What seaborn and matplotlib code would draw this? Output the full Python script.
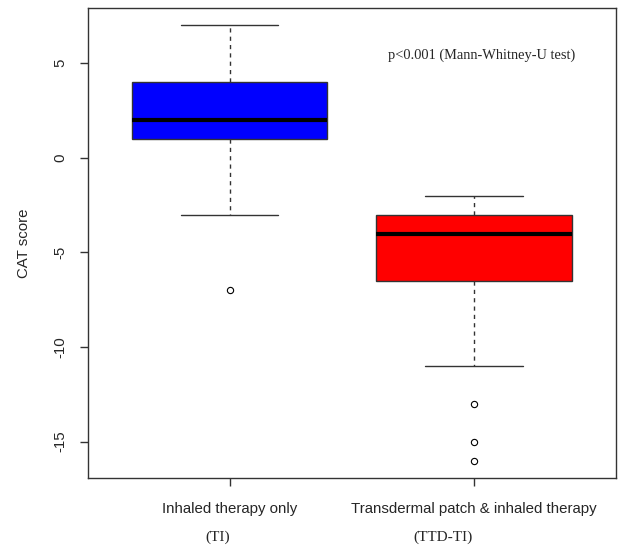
import numpy as np
import pandas as pd
import matplotlib
matplotlib.use("Agg")
import matplotlib.pyplot as plt
import seaborn as sns

# CAT score samples (quartiles, whiskers, outliers)
ti_scores = [-7, -3, 0, 1, 1, 1, 2, 2, 3, 3, 4, 4, 5, 6, 7]
ttd_scores = [-16, -15, -13, -11, -7, -6, -6, -5, -5, -4, -4, -4,
              -3, -3, -3, -3, -2, -2, -2]
group_labels = ["Inhaled therapy only", "Transdermal patch & inhaled therapy"]
group_short = ["(TI)", "(TTD-TI)"]
box_colors = ["#0000FF", "#FF0000"]
y_ticks = [-15, -10, -5, 0, 5]
p_text = "p<0.001 (Mann-Whitney-U test)"

df = pd.DataFrame({
    "group": [group_labels[0]] * len(ti_scores) + [group_labels[1]] * len(ttd_scores),
    "score": ti_scores + ttd_scores,
})

sns.set_style("white")
plt.rcParams["font.family"] = ["Liberation Sans", "DejaVu Sans"]
serif = ["Liberation Serif", "DejaVu Serif"]

fig = plt.figure(figsize=(6.18, 5.46), dpi=100)
ax = fig.add_axes([0.1424, 0.1245, 0.8536, 0.861])

line_col = "#333333"
sns.boxplot(
    data=df, x="group", y="score", hue="group", order=group_labels,
    hue_order=group_labels, palette=box_colors, saturation=1, width=0.8,
    whis=1.5, linecolor=line_col, linewidth=1, legend=False, ax=ax,
    boxprops=dict(edgecolor=line_col),
    medianprops=dict(color="black", linewidth=3),
    whiskerprops=dict(linestyle=(0, (3, 3)), color=line_col),
    capprops=dict(color=line_col),
    flierprops=dict(marker="o", markerfacecolor="none",
                    markeredgecolor="black", markersize=4.5, markeredgewidth=0.8),
)

ax.set_xlim(-0.58, 1.58)
ax.set_ylim(-16.92, 7.92)
ax.set_yticks(y_ticks)
ax.set_yticklabels([str(t) for t in y_ticks], rotation=90, va="center", fontsize=10.8)
ax.set_xticks([0, 1])
ax.set_xticklabels(group_labels, fontsize=10.8)
ax.tick_params(axis="both", direction="out", length=6, width=1, color=line_col,
               left=True, bottom=True)
ax.tick_params(axis="y", pad=9)
ax.tick_params(axis="x", pad=11)
ax.set_xlabel("")
ax.set_ylabel("CAT score", fontsize=10.8, labelpad=16)

for sp in ax.spines.values():
    sp.set_color(line_col)
    sp.set_linewidth(1)
    sp.set_visible(True)

ax.text(1.03, 5.42, p_text, ha="center", va="center", fontsize=10.4, family=serif)

fig.text(218 / 618, 1 - 537 / 546, group_short[0], ha="center", va="center",
         fontsize=11, family=serif)
fig.text(443 / 618, 1 - 537 / 546, group_short[1], ha="center", va="center",
         fontsize=11, family=serif)

fig.savefig("out.png", dpi=100, facecolor="white")
